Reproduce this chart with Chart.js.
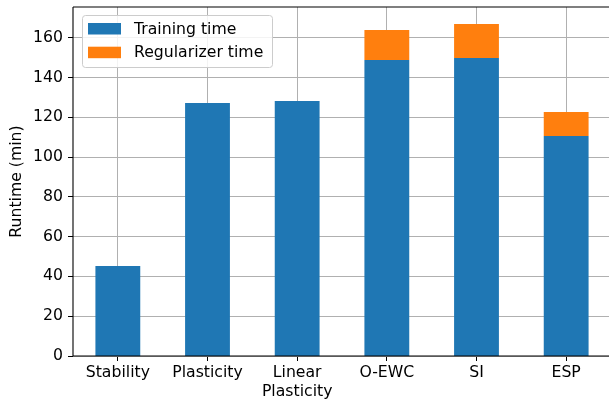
<!DOCTYPE html>
<html>
<head>
<meta charset="utf-8">
<script src="https://cdn.jsdelivr.net/npm/chart.js@4"></script>
<style>
  html, body { margin: 0; padding: 0; background: #fff; overflow: hidden; }
  #wrap { width: 612px; height: 400px; }
</style>
</head>
<body>
<div id="wrap"><canvas id="runtimeChart" width="612" height="400"></canvas></div>
<script>
// Data
const methods = ['Stability', 'Plasticity', ['Linear', 'Plasticity'], 'O-EWC', 'SI', 'ESP'];
const trainingTime = [45.3, 127.3, 128.3, 149.0, 150.0, 110.7];
const regularizerTime = [0, 0, 0, 15.0, 17.0, 12.1];
const yTicks = [0, 20, 40, 60, 80, 100, 120, 140, 160];
const yMax = 175.4;

const FONT = 'DejaVu Sans';
const FONT_SIZE = 15.7;

// Snap bar tops/bases to whole pixels so stacked segments meet without a seam
const snapPlugin = {
    id: 'snapBars',
    beforeDatasetsDraw(chart) {
        chart.data.datasets.forEach((ds, i) => {
            chart.getDatasetMeta(i).data.forEach(bar => {
                bar.y = Math.round(bar.y);
                bar.base = Math.round(bar.base);
            });
        });
    }
};

// Spines (left, bottom, top) drawn over the bars
const spinePlugin = {
    id: 'spines',
    afterDatasetsDraw(chart) {
        const { ctx, chartArea: a } = chart;
        ctx.save();
        ctx.strokeStyle = '#000';
        ctx.lineWidth = 1.1;
        ctx.beginPath();
        ctx.moveTo(a.left, a.top);
        ctx.lineTo(a.right + 2, a.top);
        ctx.moveTo(a.left, a.top);
        ctx.lineTo(a.left, a.bottom);
        ctx.lineTo(a.right + 2, a.bottom);
        ctx.stroke();
        ctx.restore();
    }
};

// Matplotlib-style framed legend, upper left
const legendPlugin = {
    id: 'boxLegend',
    afterDraw(chart) {
        const ctx = chart.ctx;
        const x = 82.5, y = 15.5, w = 190, h = 52, r = 3;
        ctx.save();
        ctx.beginPath();
        ctx.roundRect(x, y, w, h, r);
        ctx.fillStyle = 'rgba(255,255,255,0.85)';
        ctx.fill();
        ctx.strokeStyle = '#cccccc';
        ctx.lineWidth = 1;
        ctx.stroke();
        ctx.font = FONT_SIZE + 'px "' + FONT + '"';
        ctx.textBaseline = 'middle';
        chart.data.datasets.forEach((ds, i) => {
            const rowY = 23 + i * 23.7;
            ctx.fillStyle = ds.backgroundColor;
            ctx.fillRect(88, rowY, 33, 11.5);
            ctx.fillStyle = '#000';
            ctx.fillText(ds.label, 134, rowY + 6.5);
        });
        ctx.restore();
    }
};

new Chart(document.getElementById('runtimeChart'), {
    type: 'bar',
    data: {
        labels: methods,
        datasets: [
            {
                label: 'Training time',
                data: trainingTime,
                backgroundColor: '#1f77b4',
                borderWidth: 0,
                inflateAmount: 0,
                categoryPercentage: 1,
                barPercentage: 0.5
            },
            {
                label: 'Regularizer time',
                data: regularizerTime,
                backgroundColor: '#ff7f0e',
                borderWidth: 0,
                inflateAmount: 0,
                categoryPercentage: 1,
                barPercentage: 0.5
            }
        ]
    },
    options: {
        responsive: false,
        animation: false,
        events: [],
        layout: { padding: { top: 7, right: 1, bottom: 0, left: 0 } },
        plugins: {
            legend: { display: false },
            tooltip: { enabled: false }
        },
        scales: {
            x: {
                stacked: true,
                offset: true,
                grid: {
                    offset: false,
                    color: '#b0b0b0',
                    lineWidth: 1,
                    tickColor: '#000',
                    tickLength: 5
                },
                border: { display: false },
                ticks: {
                    color: '#000',
                    padding: 3,
                    maxRotation: 0,
                    autoSkip: false,
                    font: { family: FONT, size: FONT_SIZE, lineHeight: 1.17 }
                },
                afterFit(scale) {
                    scale.height = 44;
                    scale.paddingLeft = 0;
                    scale.paddingRight = 0;
                }
            },
            y: {
                stacked: true,
                min: 0,
                max: yMax,
                afterBuildTicks(scale) {
                    scale.ticks = yTicks.map(v => ({ value: v }));
                },
                grid: {
                    color: '#b0b0b0',
                    lineWidth: 1,
                    tickColor: '#000',
                    tickLength: 5
                },
                border: { display: false },
                ticks: {
                    color: '#000',
                    padding: 5,
                    font: { family: FONT, size: FONT_SIZE }
                },
                title: {
                    display: true,
                    text: 'Runtime (min)',
                    color: '#000',
                    padding: { top: 8, bottom: 0 },
                    font: { family: FONT, size: FONT_SIZE }
                },
                afterFit(scale) {
                    scale.width = 73;
                    scale.paddingTop = 0;
                    scale.paddingBottom = 0;
                }
            }
        }
    },
    plugins: [snapPlugin, spinePlugin, legendPlugin]
});
</script>
</body>
</html>
